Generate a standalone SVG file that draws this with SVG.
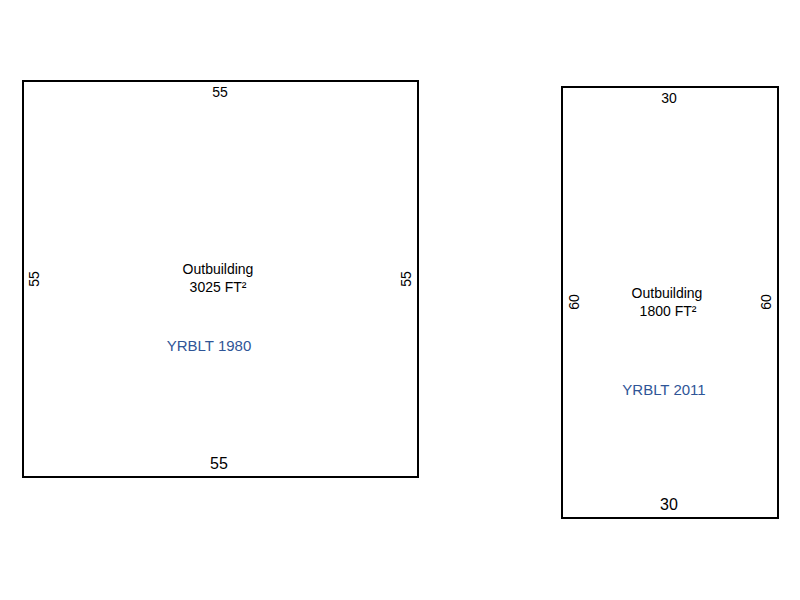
<svg xmlns="http://www.w3.org/2000/svg" width="800" height="600" viewBox="0 0 800 600">
<style>
.b{fill:none;stroke:#000;stroke-width:2}
text{font-family:"Liberation Sans",Arial,sans-serif;font-size:14px;fill:#000;text-anchor:middle}
.big{font-size:16px}
.yr{fill:#2F5597;font-size:15px}
</style>
<rect width="800" height="600" fill="#fff"/>
<g id="outbuilding1">
<rect class="b" x="23" y="81" width="395" height="396"/>
<text x="220" y="97">55</text>
<text class="big" x="219" y="469">55</text>
<text transform="translate(39,279) rotate(-90)">55</text>
<text transform="translate(411,279) rotate(-90)">55</text>
<text x="218" y="274">Outbuilding</text>
<text x="218" y="292">3025 FT²</text>
<text class="yr" x="209" y="351">YRBLT 1980</text>
</g>
<g id="outbuilding2">
<rect class="b" x="562" y="87" width="216" height="431"/>
<text x="669" y="103">30</text>
<text class="big" x="669" y="510">30</text>
<text transform="translate(579,302) rotate(-90)">60</text>
<text transform="translate(771,302) rotate(-90)">60</text>
<text x="667" y="298">Outbuilding</text>
<text x="668" y="316">1800 FT²</text>
<text class="yr" x="664" y="395">YRBLT 2011</text>
</g>
</svg>
